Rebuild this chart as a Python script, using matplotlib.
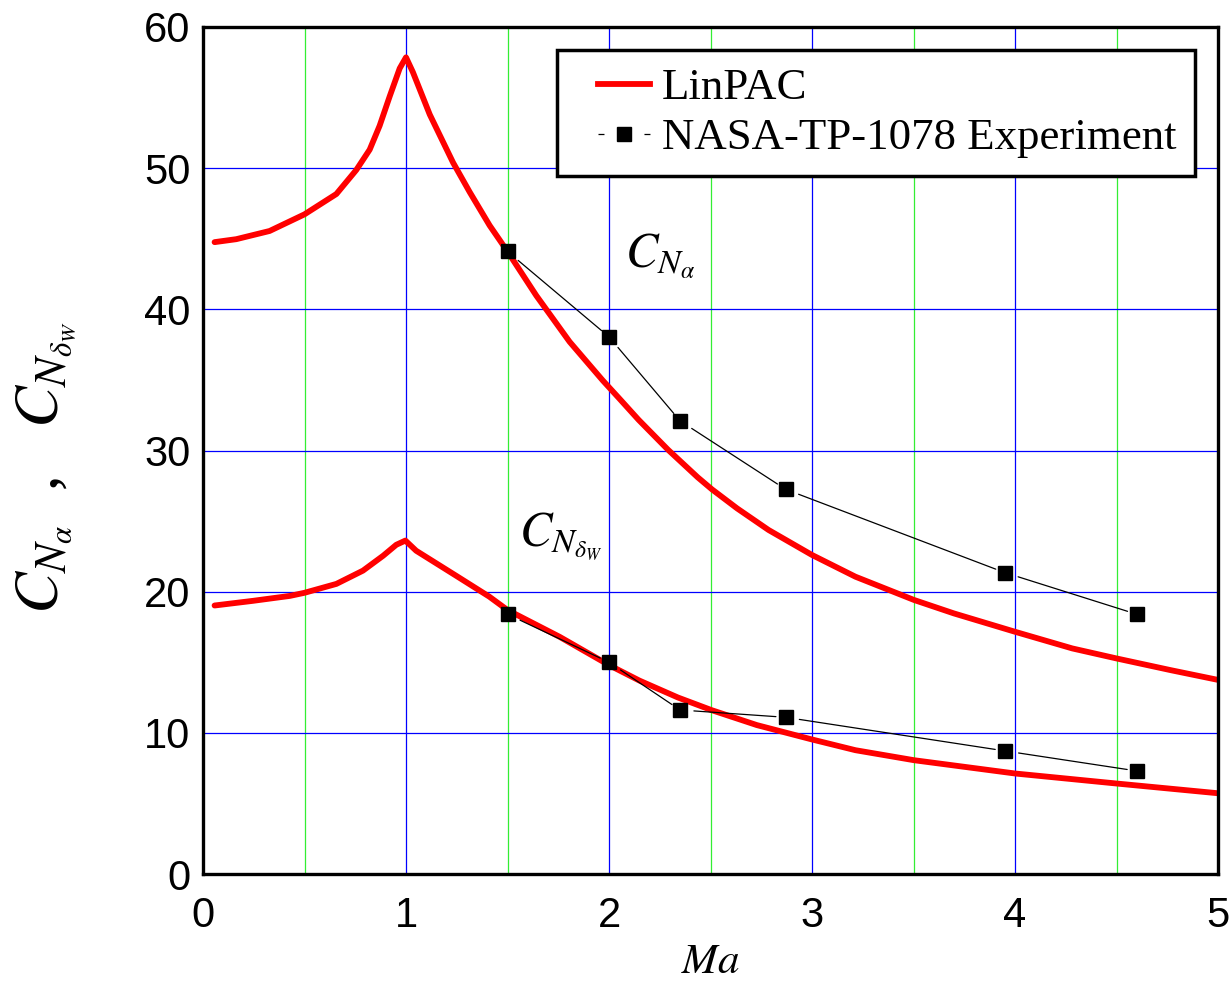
import matplotlib
matplotlib.use("Agg")
import matplotlib.pyplot as plt
from matplotlib.lines import Line2D
from matplotlib.legend_handler import HandlerLine2D

# ---------------- data ----------------
ma_alpha = [0.057, 0.164, 0.328, 0.5, 0.657, 0.755, 0.821, 0.87, 0.92, 0.969, 1.0,
            1.034, 1.117, 1.232, 1.314, 1.412, 1.5, 1.642, 1.806, 1.97, 2.049,
            2.146, 2.291, 2.437, 2.507, 2.631, 2.786, 3.0, 3.214, 3.503, 3.699,
            4.0, 4.282, 4.5, 4.767, 5.0]
cn_alpha = [44.76, 44.97, 45.55, 46.73, 48.17, 49.87, 51.31, 53.0, 55.1, 57.07, 57.85,
            56.8, 53.8, 50.39, 48.3, 45.94, 44.1, 40.97, 37.7, 34.95, 33.71,
            32.17, 30.05, 28.1, 27.25, 25.9, 24.37, 22.6, 21.06, 19.41, 18.46,
            17.16, 15.98, 15.27, 14.44, 13.75]

ma_delta = [0.057, 0.246, 0.428, 0.5, 0.657, 0.788, 0.887, 0.952, 0.997, 1.05,
            1.25, 1.41, 1.5, 1.757, 2.0, 2.15, 2.34, 2.507, 2.728, 3.0, 3.214,
            3.503, 4.0, 4.5, 5.0]
cn_delta = [19.02, 19.35, 19.7, 19.92, 20.55, 21.49, 22.54, 23.32, 23.62, 22.9,
            21.1, 19.65, 18.7, 16.8, 14.8, 13.7, 12.5, 11.6, 10.55, 9.53, 8.77,
            8.06, 7.12, 6.41, 5.72]

ma_exp = [1.5, 2.0, 2.35, 2.87, 3.95, 4.6]
exp_alpha = [44.1, 38.05, 32.1, 27.25, 21.35, 18.4]
exp_delta = [18.4, 15.0, 11.62, 11.1, 8.72, 7.3]

xticks = [0, 1, 2, 3, 4, 5]
yticks = [0, 10, 20, 30, 40, 50, 60]
xminor = [0.5, 1.5, 2.5, 3.5, 4.5]

# ---------------- style ----------------
plt.rcParams['font.family'] = ['Liberation Serif', 'DejaVu Serif']
plt.rcParams['mathtext.fontset'] = 'stix'
plt.rcParams['lines.scale_dashes'] = False

fig = plt.figure(figsize=(12.32, 9.82), dpi=100)
ax = fig.add_axes([203 / 1232, 1 - 874 / 982, (1218 - 203) / 1232, (874 - 27) / 982])

ax.set_xlim(0, 5)
ax.set_ylim(0, 60)
ax.set_xticks(xticks)
ax.set_yticks(yticks)
ax.set_xticks(xminor, minor=True)

# grid
ax.grid(which='major', color='#0000ff', lw=0.9, zorder=0)
ax.grid(which='minor', axis='x', color='#33ee33', lw=0.9, zorder=0)
ax.set_axisbelow(True)

for s in ax.spines.values():
    s.set_linewidth(2.4)
    s.set_color('black')
    s.set_zorder(10)

ax.tick_params(which='both', length=0)
ax.tick_params(axis='x', pad=16)
ax.tick_params(axis='y', pad=9)
for lab in ax.get_xticklabels() + ax.get_yticklabels():
    lab.set_family('Liberation Sans')
    lab.set_fontsize(30)

# curves
red = '#ff0000'
ax.plot(ma_alpha, cn_alpha, color=red, lw=4.2, zorder=3, solid_capstyle='round',
        solid_joinstyle='round')
ax.plot(ma_delta, cn_delta, color=red, lw=4.2, zorder=3, solid_capstyle='round',
        solid_joinstyle='round')

# experiment: thin connecting segments with gaps, then markers
for ys in (exp_alpha, exp_delta):
    for i in range(len(ma_exp) - 1):
        ax.annotate('', xy=(ma_exp[i + 1], ys[i + 1]), xytext=(ma_exp[i], ys[i]),
                    arrowprops=dict(arrowstyle='-', shrinkA=10, shrinkB=7,
                                    color='black', lw=0.9), zorder=4)
    ax.plot(ma_exp, ys, ls='none', marker='s', ms=10.5, color='black', zorder=5)

# annotations
ax.text(2.08, 43.0, r'$C_{N_\alpha}$', fontsize=35, ha='left', va='baseline')
ax.text(1.555, 23.2, r'$C_{N_{\delta_W}}$', fontsize=35, ha='left', va='baseline')

# labels
ax.set_xlabel(r'$Ma$', fontsize=31, labelpad=5)
ax.set_ylabel(r'$C_{N_\alpha}$  ,   $C_{N_{\delta_W}}$', fontsize=45)
ax.yaxis.set_label_coords(-0.122, 0.48)


# legend
class RightHandler(HandlerLine2D):
    """Line handler drawn in the right part of the handle box."""
    def __init__(self, shift, **kw):
        super().__init__(**kw)
        self.shift = shift

    def create_artists(self, legend, orig_handle, xdescent, ydescent, width,
                       height, fontsize, trans):
        s = self.shift * fontsize
        return super().create_artists(legend, orig_handle, xdescent - s, ydescent,
                                      width - s, height, fontsize, trans)


LEG_FS = 32.3
h_lin = Line2D([], [], color=red, lw=4.2)
h_line = Line2D([], [], color='black', lw=0.9, dashes=(4.3, 28.8))
h_mark = Line2D([], [], ls='none', marker='s', ms=10.5, color='black')
leg = ax.legend([h_lin, (h_line, h_mark)], ['LinPAC', 'NASA-TP-1078 Experiment'],
                loc='upper right', bbox_to_anchor=(0.977, 0.973), borderaxespad=0,
                fontsize=LEG_FS, handlelength=1.67, handletextpad=0.27,
                borderpad=0.4, labelspacing=0.22, fancybox=False, framealpha=1,
                edgecolor='black', handler_map={Line2D: RightHandler(0.51)})
leg.get_frame().set_linewidth(2.5)
leg.set_zorder(20)

fig.savefig('out.png', dpi=100)
